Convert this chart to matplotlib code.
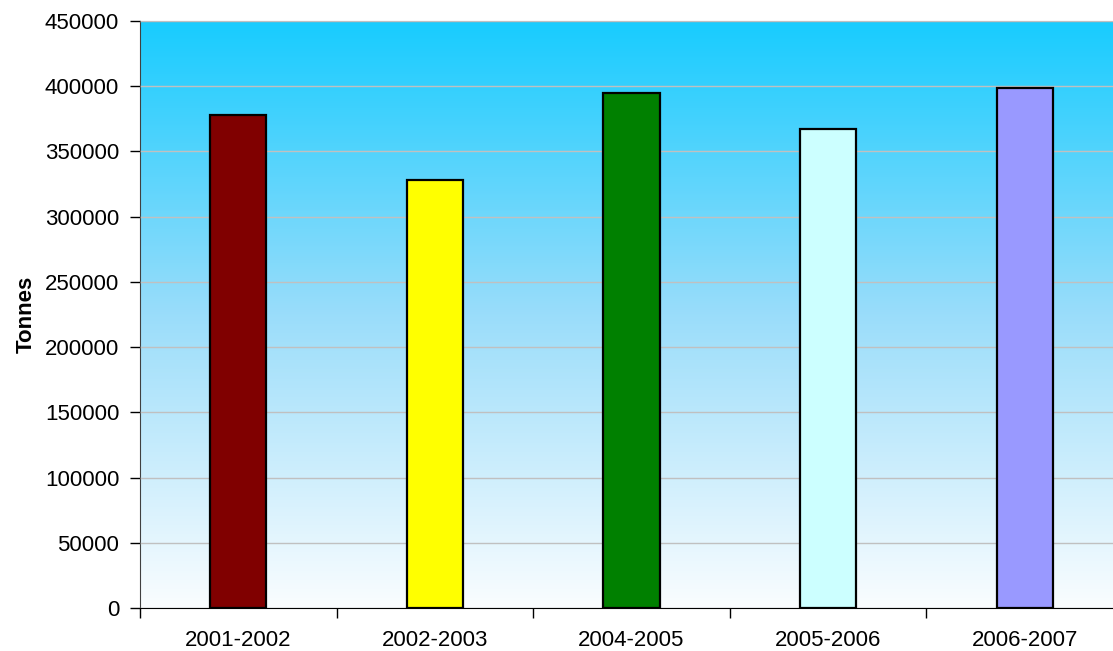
import numpy as np
import matplotlib
matplotlib.use('Agg')
import matplotlib.pyplot as plt
from matplotlib.colors import LinearSegmentedColormap

# annual tonnage by season
seasons = ['2001-2002', '2002-2003', '2004-2005', '2005-2006', '2006-2007']
tonnes = [378000, 328000, 394500, 367000, 399000]
bar_colors = ['#800000', '#FFFF00', '#008000', '#CCFFFF', '#9999FF']

plt.rcParams['font.family'] = ['Liberation Sans', 'DejaVu Sans']

fig = plt.figure(figsize=(11.13, 6.51), dpi=100)
ax = fig.add_axes([140 / 1113, 43 / 651, 983 / 1113, 587 / 651])

# sky-blue to white background gradient
cmap = LinearSegmentedColormap.from_list('sky', ['#FAFDFF', '#9ADDFA', '#18CCFF'])
grad = np.linspace(0, 1, 256).reshape(-1, 1)
ax.imshow(grad, cmap=cmap, aspect='auto', origin='lower',
          extent=[-0.5, len(seasons) - 0.5, 0, 450000], zorder=0)

x = np.arange(len(seasons))
ax.bar(x, tonnes, width=0.285, color=bar_colors, edgecolor='black', linewidth=1.6, zorder=3)

ax.set_xlim(-0.5, len(seasons) - 0.5)
ax.set_ylim(0, 450000)
ax.set_yticks(np.arange(0, 450001, 50000))
ax.yaxis.grid(True, color='#C0C0C0', linewidth=1, zorder=1)
ax.set_axisbelow(False)

ax.set_xticks(np.arange(-0.5, len(seasons) - 0.4, 1))
ax.set_xticklabels([])
ax.set_xticks(x, minor=True)
ax.set_xticklabels(seasons, minor=True)
ax.tick_params(axis='x', which='minor', length=0, pad=16, labelsize=16)
ax.tick_params(axis='x', which='major', length=7, width=1, direction='out')
ax.tick_params(axis='y', length=7, width=1, direction='out', labelsize=16, pad=8)

for side in ['top', 'right']:
    ax.spines[side].set_color('#808080')
ax.spines['left'].set_color('#404040')
ax.spines['bottom'].set_color('black')

ax.set_ylabel('Tonnes', fontsize=16, fontweight='bold', labelpad=6)

fig.savefig('out.png', dpi=100)
